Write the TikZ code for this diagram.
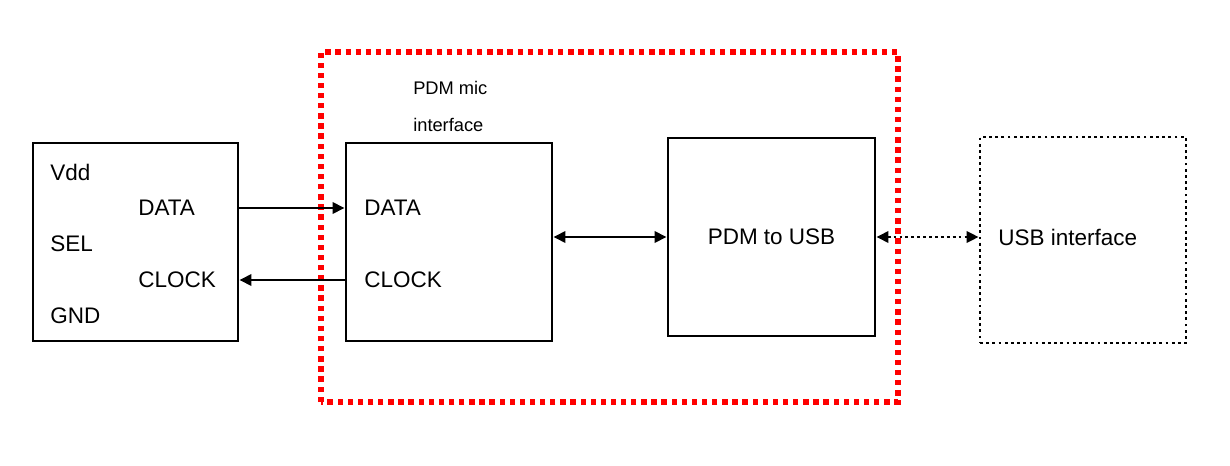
\documentclass[tikz,border=0pt]{standalone}
\usepackage{fontspec}
\setmainfont{Liberation Sans}
\usetikzlibrary{arrows.meta,positioning}
\tikzset{
  block/.style={rectangle, draw=black, line width=2.1pt, minimum width=5.15cm, minimum height=4.95cm, inner sep=0pt, font=\fontsize{16}{19}\selectfont},
  dotblock/.style={block, line width=2pt, dash pattern=on 2pt off 2.4pt},
  pinlabel/.style={anchor=west, inner sep=0pt, font=\fontsize{16}{19}\selectfont},
  smalllabel/.style={anchor=west, inner sep=0pt, font=\fontsize{13}{16}\selectfont},
  sigarrow/.style={-{Triangle[length=8.5pt,width=8pt]}, line width=1.9pt},
  busarrow/.style={{Triangle[length=8.5pt,width=8pt]}-{Triangle[length=8.5pt,width=8pt]}, line width=1.9pt},
  linkarrow/.style={busarrow, dash pattern=on 2pt off 2.2pt},
  micborder/.style={draw=red, line width=3.8pt, dash pattern=on 3.8pt off 3.4pt}
}
\begin{document}
\begin{tikzpicture}
\useasboundingbox (0,0) rectangle (30.75,11.625);
% PDM mic interface boundary
\draw[micborder] (8.025,1.575) rectangle (22.45,10.325);
\node[smalllabel] (tit1) at (10.325,9.425) {PDM mic};
\node[smalllabel] (tit2) at (10.325,8.5) {interface};
% microphone
\node[block, minimum width=5.125cm] (mic) at (3.3875,5.575) {};
\foreach \nm/\txt/\x/\y in {vdd/Vdd/1.25/7.325, ldata/DATA/3.45/6.425, sel/SEL/1.25/5.525, lclk/CLOCK/3.45/4.625, gnd/GND/1.25/3.725}{
\node[pinlabel] (\nm) at (\x,\y) {\txt};}
% interface blocks
\node[block] (pdmif) at (11.225,5.575) {};
\node[pinlabel] (mdata) at (9.1,6.425) {DATA};
\node[pinlabel] (mclk) at (9.1,4.625) {CLOCK};
\node[block, minimum width=5.175cm] (conv) at (19.2875,5.7) {PDM to USB};
\node[dotblock, minimum height=5.15cm] (usb) at (27.075,5.625) {};
\node[pinlabel] (usbtxt) at (24.95,5.7) {USB interface};
% connections
\draw[sigarrow] (mic.east |- mdata) -- (pdmif.west |- mdata);
\draw[sigarrow] (pdmif.west |- mclk) -- (mic.east |- mclk);
\draw[busarrow] (pdmif.east |- conv) -- (conv.west);
\draw[linkarrow] (conv.east) -- (usb.west |- conv);
\end{tikzpicture}
\end{document}
